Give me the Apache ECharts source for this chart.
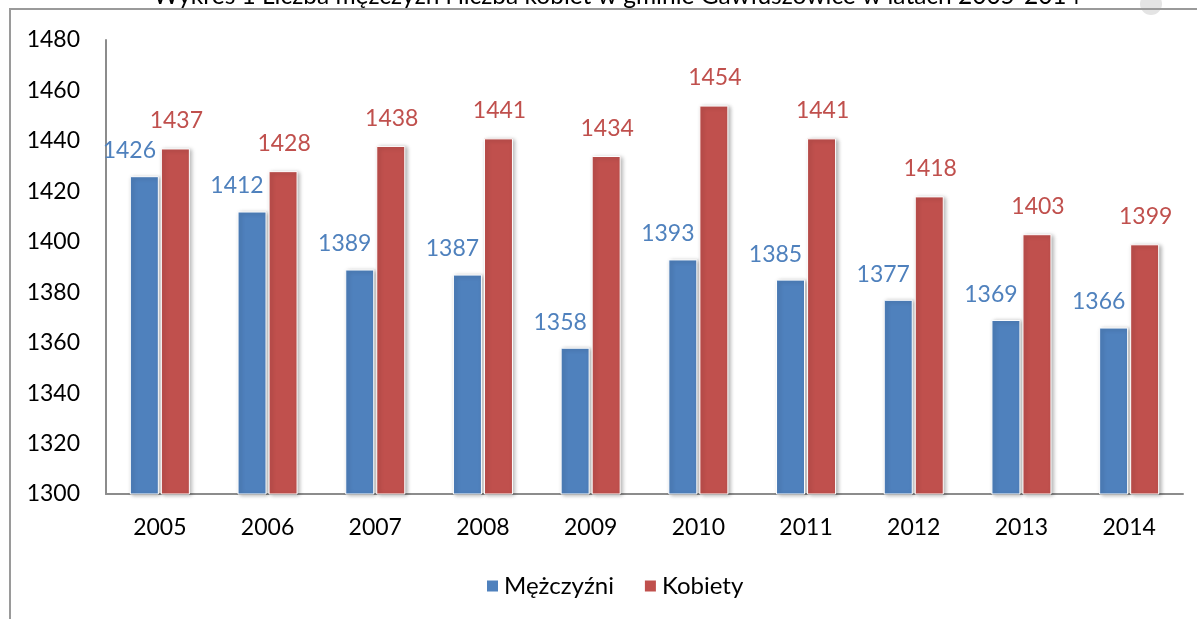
<!DOCTYPE html>
<html>
<head>
<meta charset="utf-8">
<script src="https://cdn.jsdelivr.net/npm/echarts@6/dist/echarts.min.js"></script>
<style>
  html, body { margin: 0; padding: 0; background: #fff; }
  #chart { width: 1197px; height: 619px; }
</style>
</head>
<body>
<div id="chart"></div>
<script>
const years = ['2005', '2006', '2007', '2008', '2009', '2010', '2011', '2012', '2013', '2014']
const men = [1426, 1412, 1389, 1387, 1358, 1393, 1385, 1377, 1369, 1366]
const women = [1437, 1428, 1438, 1441, 1434, 1454, 1441, 1418, 1403, 1399]
const seriesNames = ['Mężczyźni', 'Kobiety']

const FONT = 'Lato, "Open Sans", sans-serif'
const FS = 23
const BLUE = '#4f81bd'
const RED = '#c0504d'

const chart = echarts.init(document.getElementById('chart'))

function barSeries(name, data, color, offset, distance) {
  return {
    name: name,
    type: 'bar',
    data: data,
    barWidth: 29,
    barGap: '7%',
    itemStyle: {
      color: color,
      borderColor: '#fff',
      borderWidth: 1,
      shadowBlur: 4,
      shadowOffsetX: 2,
      shadowOffsetY: 1,
      shadowColor: 'rgba(0,0,0,0.3)'
    },
    label: {
      show: true,
      position: 'top',
      distance: distance,
      offset: offset,
      color: color,
      fontSize: FS,
      fontFamily: FONT
    }
  }
}

chart.setOption({
  animation: false,
  title: {
    text: 'Wykres 1 Liczba mężczyzn i liczba kobiet w gminie Gawłuszowice w latach 2005-2014',
    left: 612,
    textAlign: 'center',
    top: -21,
    textStyle: { color: '#000', fontSize: 24.5, fontWeight: 'normal', fontFamily: FONT }
  },
  graphic: [
    { type: 'circle', shape: { cx: 1151, cy: 4, r: 11 }, style: { fill: '#e4e4e4' }, z: 0 },
    { type: 'rect', shape: { x: 10, y: 9, width: 1300, height: 700 },
      style: { fill: 'none', stroke: '#9a9a9a', lineWidth: 2 }, z: 1 }
  ],
  legend: {
    data: seriesNames,
    left: 480,
    top: 569,
    icon: 'rect',
    itemWidth: 13,
    itemHeight: 13,
    itemGap: 29,
    textStyle: { color: '#000', fontSize: FS + 1, fontFamily: FONT }
  },
  grid: { left: 106, right: 14, top: 40, bottom: 125, containLabel: false },
  xAxis: {
    type: 'category',
    data: years,
    axisLine: { lineStyle: { color: '#8c8c8c', width: 2 } },
    axisTick: { show: false },
    axisLabel: { color: '#000', fontSize: FS, fontFamily: FONT, margin: 22 }
  },
  yAxis: {
    type: 'value',
    min: 1300,
    max: 1480,
    interval: 20,
    axisLine: { show: true, lineStyle: { color: '#8c8c8c', width: 2 } },
    axisTick: { show: false },
    splitLine: { show: false },
    axisLabel: { color: '#000', fontSize: FS, fontFamily: FONT, margin: 26, formatter: v => String(v) }
  },
  series: [
    barSeries(seriesNames[0], men, BLUE, [-15, 0], 14),
    barSeries(seriesNames[1], women, RED, [1, 0], 16)
  ]
})
</script>
</body>
</html>
